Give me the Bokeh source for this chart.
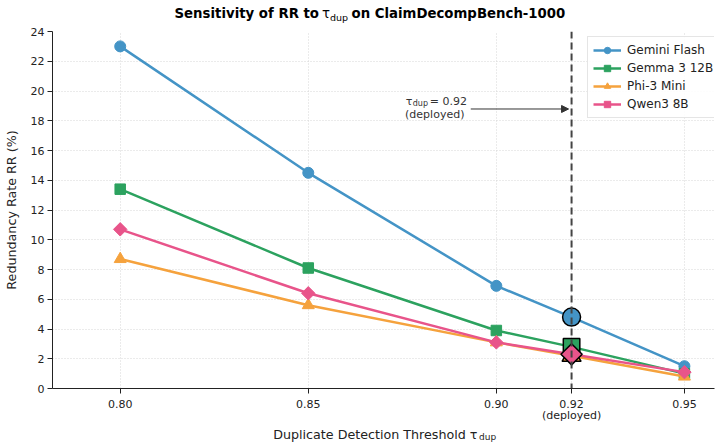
import math
from bokeh.plotting import figure
from bokeh.layouts import column
from bokeh.models import (Range1d, FixedTicker, Span, Arrow, NormalHead, Label,
                          Legend, LegendItem)
from bokeh.embed import file_html
from bokeh.resources import INLINE

# ---------------- data ----------------
thresholds = [0.80, 0.85, 0.90, 0.92, 0.95]
x_tick_labels = ["0.80", "0.85", "0.90", "0.92\n(deployed)", "0.95"]
deployed_threshold = 0.92
y_ticks = [0, 2, 4, 6, 8, 10, 12, 14, 16, 18, 20, 22, 24]

model_names = ["Gemini Flash", "Gemma 3 12B", "Phi-3 Mini", "Qwen3 8B"]
gemini_flash = [23.0, 14.5, 6.9, 4.8, 1.5]
gemma_3_12b = [13.4, 8.1, 3.9, 2.8, 1.0]
phi_3_mini = [8.7, 5.6, 3.1, 2.2, 0.8]
qwen3_8b = [10.7, 6.4, 3.1, 2.3, 1.1]

series = [gemini_flash, gemma_3_12b, phi_3_mini, qwen3_8b]
colors = ["#4494c6", "#2ca25f", "#f5a23d", "#e8548a"]
markers = ["circle", "square", "triangle", "square"]
angles = [0, 0, 0, math.pi / 4]
sizes = [11, 10.5, 12, 9.5]
big_sizes = [18, 16.5, 19, 15]

FONT = "DejaVu Sans"
W = 719
TITLE_H = 27
MAIN_H = 400
XLAB_H = 17
BORDER_L = 51
BORDER_R = 5

x_range = Range1d(0.782, 0.958)


def text_strip(height):
    f = figure(width=W, height=height, output_backend="svg", toolbar_location=None,
               x_range=x_range, y_range=Range1d(0, height),
               x_axis_type=None, y_axis_type=None,
               min_border_left=BORDER_L, min_border_right=BORDER_R,
               min_border_top=0, min_border_bottom=0)
    f.outline_line_color = None
    f.background_fill_color = "white"
    f.border_fill_color = "white"
    return f


# ---------------- title strip ----------------
title_fig = text_strip(TITLE_H)
tcommon = dict(x=x_range.start, text_font=FONT, text_color="black",
               text_baseline="alphabetic")
title_fig.add_layout(Label(text="Sensitivity of RR to", x_offset=266.5, y=14,
                           text_align="right", text_font_size="13.3px",
                           text_font_style="bold", **tcommon))
title_fig.add_layout(Label(text="τ", x_offset=269.5, y=14, text_font_size="13.3px", **tcommon))
title_fig.add_layout(Label(text="dup", x_offset=277.5, y=10.5, text_font_size="9.5px", **tcommon))
title_fig.add_layout(Label(text="on ClaimDecompBench-1000", x_offset=299, y=14,
                           text_font_size="13.3px", text_font_style="bold", **tcommon))

# ---------------- main plot ----------------
p = figure(width=W, height=MAIN_H, output_backend="svg", toolbar_location=None,
           x_range=x_range, y_range=Range1d(0, 24),
           min_border_left=BORDER_L, min_border_right=BORDER_R, min_border_top=4,
           min_border_bottom=39)
p.outline_line_color = None
p.background_fill_color = "white"
p.border_fill_color = "white"

p.xaxis.ticker = FixedTicker(ticks=thresholds)
p.xaxis.major_label_overrides = {t: lab for t, lab in zip(thresholds, x_tick_labels)}
p.yaxis.ticker = FixedTicker(ticks=y_ticks)
for ax in (p.xaxis[0], p.yaxis[0]):
    ax.axis_line_color = "#222222"
    ax.axis_line_width = 1
    ax.major_tick_line_color = "#222222"
    ax.major_tick_in = 0
    ax.major_tick_out = 5
    ax.minor_tick_line_color = None
    ax.major_label_text_font = FONT
    ax.major_label_text_font_size = "11px"
    ax.major_label_text_color = "#222222"
p.xaxis.major_label_standoff = 4
p.xaxis.major_label_text_line_height = 0.85
p.yaxis.major_label_standoff = 3
p.yaxis.axis_label = "Redundancy Rate RR (%)"
p.yaxis.axis_label_text_font = FONT
p.yaxis.axis_label_text_font_style = "normal"
p.yaxis.axis_label_text_font_size = "12.7px"
p.yaxis.axis_label_text_color = "#222222"
p.yaxis.axis_label_standoff = 9

for g in (p.xgrid[0], p.ygrid[0]):
    g.grid_line_color = "#d2d2d2"
    g.grid_line_dash = "1 2"
    g.grid_line_width = 0.9

p.add_layout(Span(location=deployed_threshold, dimension="height",
                  line_color="#444444", line_width=2, line_dash="7 4"))

items = []
for name, vals, c, m, a, s in zip(model_names, series, colors, markers, angles, sizes):
    lr = p.line(thresholds, vals, line_color=c, line_width=2.5)
    sr = p.scatter(thresholds, vals, marker=m, angle=a, size=s,
                   fill_color=c, line_color=c)
    items.append(LegendItem(label=name, renderers=[lr, sr]))

for vals, c, m, a, s in zip(series, colors, markers, angles, big_sizes):
    hx = [t for t in thresholds if abs(t - deployed_threshold) < 1e-9]
    hy = [v for t, v in zip(thresholds, vals) if abs(t - deployed_threshold) < 1e-9]
    p.scatter(hx, hy, marker=m, angle=a, size=s, fill_color=c,
              line_color="black", line_width=1.5)

legend = Legend(items=items, location=(535, 270),
                label_text_font=FONT, label_text_font_size="12px",
                label_text_color="#222222", glyph_width=28, glyph_height=16,
                label_height=16, label_standoff=6, spacing=2, padding=5,
                border_line_color="#cccccc", border_line_width=1,
                background_fill_alpha=0.9)
p.add_layout(legend)

arrow_y = 18.79
arrow_x0 = 0.8932
p.add_layout(Arrow(end=NormalHead(size=7, fill_color="#333333", line_color="#333333"),
                   x_start=arrow_x0, y_start=arrow_y,
                   x_end=deployed_threshold - 0.0008, y_end=arrow_y,
                   line_color="#333333", line_width=1))
ann = dict(x=arrow_x0, y=arrow_y, text_font=FONT, text_color="#333333",
           text_baseline="alphabetic")
p.add_layout(Label(text="τ", x_offset=-65, y_offset=7.3, text_font_size="11px", **ann))
p.add_layout(Label(text="dup", x_offset=-58, y_offset=5, text_font_size="8px", **ann))
p.add_layout(Label(text="= 0.92", x_offset=-41, y_offset=7.3, text_font_size="11px", **ann))
p.add_layout(Label(text="(deployed)", x_offset=-36, y_offset=-5.7, text_font_size="11px",
                   text_align="center", **ann))

# ---------------- x-axis label strip ----------------
xlab_fig = text_strip(XLAB_H)
xcommon = dict(x=x_range.start, text_font=FONT, text_color="#222222",
               text_baseline="alphabetic")
xlab_fig.add_layout(Label(text="Duplicate Detection Threshold τ", x_offset=425, y=10.5,
                          text_align="right", text_font_size="12.7px", **xcommon))
xlab_fig.add_layout(Label(text="dup", x_offset=426.5, y=8, text_font_size="9px", **xcommon))

layout = column(title_fig, p, xlab_fig, spacing=0)
open("out.html", "w").write(file_html(layout, INLINE))
